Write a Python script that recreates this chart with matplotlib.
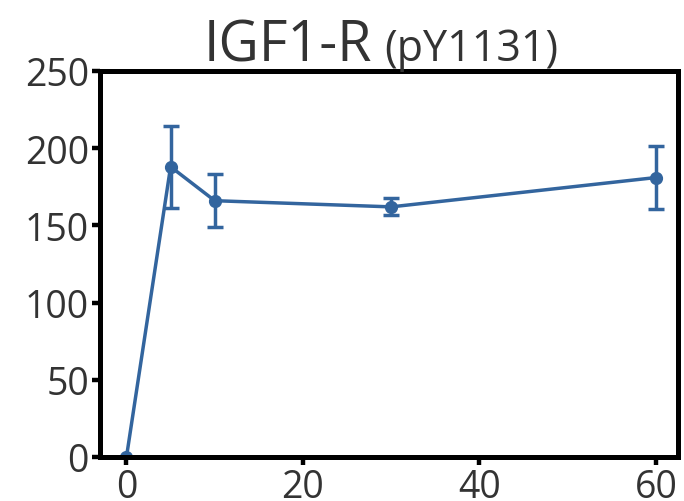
import matplotlib
matplotlib.use("Agg")
import matplotlib.pyplot as plt

plt.rcParams['font.family'] = ['Open Sans', 'DejaVu Sans']

# Time course (minutes) and phospho-signal with error
time_min = [0, 5, 10, 30, 60]
signal = [0, 188, 166, 162, 181]
error = [0, 26.5, 17, 5.5, 20.5]
x_ticks = [0, 20, 40, 60]
y_ticks = [0, 50, 100, 150, 200, 250]

line_color = '#33659e'
text_color = '#333333'

fig = plt.figure(figsize=(6.84, 5.02), dpi=100)
ax = fig.add_axes([100 / 684, 44 / 502, 578 / 684, 386 / 502])

ax.errorbar(time_min, signal, yerr=error, color=line_color, lw=2.5,
            marker='o', markersize=8.5, capsize=6, capthick=2.5, elinewidth=2.5)

ax.set_xlim(-3, 62.5)
ax.set_ylim(0, 250)
ax.set_xticks(x_ticks)
ax.set_yticks(y_ticks)

for s in ax.spines.values():
    s.set_linewidth(3.6)
    s.set_color('black')
ax.tick_params(axis='both', length=6, width=3.2, color='black',
               labelsize=27, labelcolor=text_color, pad=2)

fig.text(0.544, 0.878, 'IGF1-R', fontsize=40, color=text_color,
         ha='right', va='baseline')
fig.text(0.562, 0.878, '(pY1131)', fontsize=31, color=text_color,
         ha='left', va='baseline')

fig.savefig('out.png', dpi=100)
